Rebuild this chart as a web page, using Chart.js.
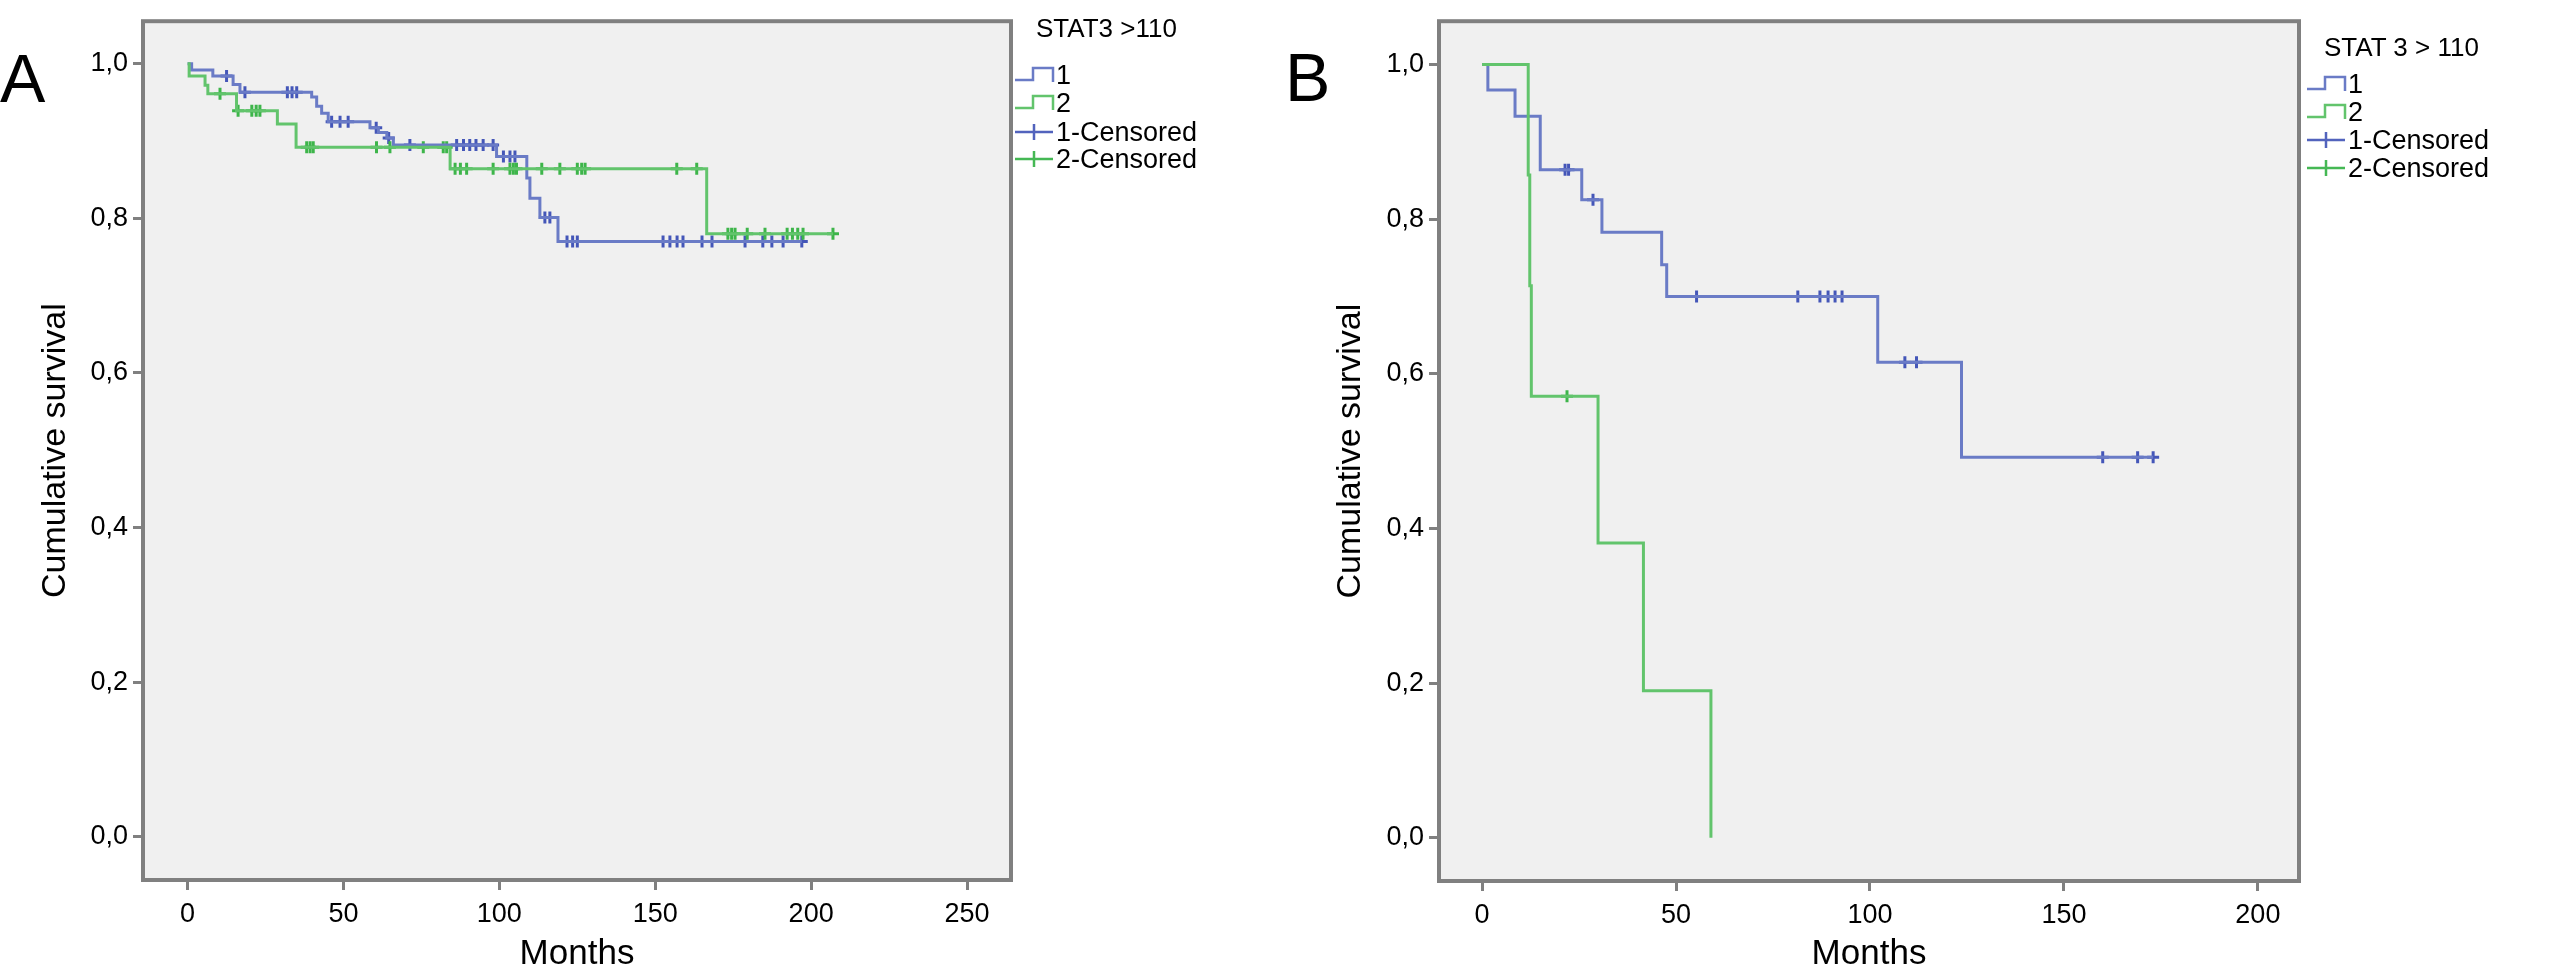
<!DOCTYPE html>
<html>
<head>
<meta charset="utf-8">
<title>Cumulative survival by STAT3</title>
<script src="https://cdn.jsdelivr.net/npm/chart.js@4.4.1/dist/chart.umd.min.js"></script>
<style>
  body { margin: 0; background: #fff; }
  #page { position: relative; width: 2574px; height: 974px; overflow: hidden;
          font-family: 'Liberation Sans', Arial, sans-serif; color: #000; }
  .panel { position: absolute; top: 0; width: 1287px; height: 974px; }
  .letter { position: absolute; font-size: 68px; line-height: 1; }
  .legend { position: absolute; top: 0; width: 260px; height: 200px; }
  .legend div { position: absolute; font-size: 27px; line-height: 1; white-space: nowrap; }
  .legend .ltitle { font-size: 26px; }
  .legend svg { position: absolute; left: 0; }
</style>
</head>
<body>
<div id="page">
  <div class="panel" style="left:0"><canvas id="chartA"></canvas></div>
  <div class="panel" style="left:1287px"><canvas id="chartB"></canvas></div>

  <div class="letter" style="left:0; top:44px">A</div>
  <div class="letter" style="left:1285px; top:43px">B</div>

  <div class="legend" style="left:1015px">
    <div class="ltitle" style="left:21px; top:15px">STAT3 &gt;110</div>
    <svg style="top:65px" width="42" height="20"><path d="M0 15 H18 V3 H38 V17" fill="none" stroke="#6a7bc6" stroke-width="2.5"/></svg>
    <div style="left:41px; top:62px">1</div>
    <svg style="top:93px" width="42" height="20"><path d="M0 15 H18 V3 H38 V17" fill="none" stroke="#62c46c" stroke-width="2.5"/></svg>
    <div style="left:41px; top:90px">2</div>
    <svg style="top:122px" width="42" height="20"><path d="M0 10 H38 M19 2 V18" fill="none" stroke="#5263bd" stroke-width="2.5"/></svg>
    <div style="left:41px; top:119px">1-Censored</div>
    <svg style="top:149px" width="42" height="20"><path d="M0 10 H38 M19 2 V18" fill="none" stroke="#45b854" stroke-width="2.5"/></svg>
    <div style="left:41px; top:146px">2-Censored</div>
  </div>

  <div class="legend" style="left:2307px">
    <div class="ltitle" style="left:17px; top:34px">STAT 3 &gt; 110</div>
    <svg style="top:74px" width="42" height="20"><path d="M0 15 H18 V3 H38 V17" fill="none" stroke="#6a7bc6" stroke-width="2.5"/></svg>
    <div style="left:41px; top:71px">1</div>
    <svg style="top:102px" width="42" height="20"><path d="M0 15 H18 V3 H38 V17" fill="none" stroke="#62c46c" stroke-width="2.5"/></svg>
    <div style="left:41px; top:99px">2</div>
    <svg style="top:130px" width="42" height="20"><path d="M0 10 H38 M19 2 V18" fill="none" stroke="#5263bd" stroke-width="2.5"/></svg>
    <div style="left:41px; top:127px">1-Censored</div>
    <svg style="top:158px" width="42" height="20"><path d="M0 10 H38 M19 2 V18" fill="none" stroke="#45b854" stroke-width="2.5"/></svg>
    <div style="left:41px; top:155px">2-Censored</div>
  </div>
</div>

<script>
// Axis ticks
const yTicks = [0, 0.2, 0.4, 0.6, 0.8, 1.0];
const xTicksA = [0, 50, 100, 150, 200, 250];
const xTicksB = [0, 50, 100, 150, 200];

// Panel A, group 1: event times (months) and survival after each event
const timesA1 = [0, 1.3, 8.1, 14.6, 16.8, 39.8, 41.4, 43, 45.1, 58.5, 61.2, 63.9, 66, 99.1, 108.8, 109.8, 113, 118.8];
const survA1 = [1, 0.992, 0.984, 0.973, 0.963, 0.957, 0.945, 0.936, 0.925, 0.917, 0.911, 0.904, 0.895, 0.880, 0.852, 0.826, 0.801, 0.770];
const censA1 = [12.5, 18.4, 32, 33.5, 35, 46.2, 48.9, 51.5, 60.5, 64.5, 71.3, 86.3, 88.5, 90.5, 92.5, 94.8, 98,
                101.3, 103.4, 105, 114.6, 116.2, 121.7, 123.5, 125, 152.5, 154.7, 157, 158.9, 165, 168.2,
                178.8, 184.5, 187.4, 191, 197];
const endA1 = 197;

// Panel A, group 2
const timesA2 = [0, 0.5, 5.6, 6.5, 15.7, 28.8, 34.8, 84.2, 166.5];
const survA2 = [1, 0.984, 0.972, 0.961, 0.939, 0.922, 0.892, 0.864, 0.780];
const censA2 = [10.4, 16.2, 20.6, 22, 23.2, 38.2, 39.3, 40.3, 60.6, 64.9, 75.6, 82, 83.1, 85.8, 87.5, 89.5, 98,
                103.4, 104.5, 105.5, 113.6, 119.4, 125, 126.4, 127.5, 156.9, 163.3, 173.3, 174.5, 175.6,
                179.5, 185.2, 192.3, 194, 195.7, 197.4, 207];
const endA2 = 207;

// Panel B, group 1
const timesB1 = [0, 1.5, 8.5, 15, 25.7, 30.9, 46.3, 47.6, 102, 123.6];
const survB1 = [1, 0.967, 0.933, 0.864, 0.825, 0.783, 0.741, 0.700, 0.615, 0.492];
const censB1 = [21.4, 22.3, 28.6, 55.3, 81.4, 87.1, 89.2, 91, 92.8, 109, 112, 160, 169, 173];
const endB1 = 173;

// Panel B, group 2
const timesB2 = [0, 11.9, 12.3, 12.7, 29.9, 41.6, 59];
const survB2 = [1, 0.857, 0.714, 0.571, 0.381, 0.190, 0];
const censB2 = [21.9];
const endB2 = 59;

const blueLine = '#6a7bc6';
const blueMark = '#4456b8';
const greenLine = '#62c46c';
const greenMark = '#3db54a';

Chart.defaults.font.family = "'Liberation Sans', Arial, sans-serif";
Chart.defaults.color = '#000';

// step curve points from the event table
function kmPoints(times, surv, end) {
    const pts = times.map((t, i) => ({ x: t, y: surv[i] }));
    if (end > times[times.length - 1]) pts.push({ x: end, y: surv[surv.length - 1] });
    return pts;
}

// survival level at a censoring time
function censPoints(times, surv, cens) {
    return cens.map(t => {
        let s = surv[0];
        for (let i = 0; i < times.length; i++) if (times[i] <= t) s = surv[i];
        return { x: t, y: s };
    });
}

const framePlugin = {
    id: 'frame',
    beforeDraw(chart) {
        const { ctx, chartArea: a } = chart;
        ctx.save();
        ctx.fillStyle = '#f0f0f0';
        ctx.fillRect(a.left, a.top, a.right - a.left, a.bottom - a.top);
        ctx.restore();
    },
    afterDraw(chart) {
        const { ctx, chartArea: a } = chart;
        ctx.save();
        ctx.strokeStyle = '#808080';
        ctx.lineWidth = 4;
        ctx.strokeRect(a.left, a.top, a.right - a.left, a.bottom - a.top);
        ctx.restore();
    }
};

function lineSet(data, color) {
    return { data, showLine: true, stepped: true, borderColor: color, borderWidth: 3,
             pointRadius: 0, fill: false };
}

function markSet(data, color) {
    return { data, showLine: false, pointStyle: 'cross', pointRadius: 6,
             pointBorderWidth: 3, borderColor: color, backgroundColor: color };
}

function makeChart(id, o) {
    const ctx = document.getElementById(id).getContext('2d');
    return new Chart(ctx, {
        type: 'scatter',
        data: {
            datasets: [
                lineSet(kmPoints(o.t2, o.s2, o.e2), greenLine),
                lineSet(kmPoints(o.t1, o.s1, o.e1), blueLine),
                markSet(censPoints(o.t2, o.s2, o.c2), greenMark),
                markSet(censPoints(o.t1, o.s1, o.c1), blueMark)
            ]
        },
        options: {
            responsive: true,
            maintainAspectRatio: false,
            animation: false,
            devicePixelRatio: 1,
            layout: { padding: { left: 0, top: o.padTop, right: o.padRight, bottom: 0 } },
            plugins: { legend: { display: false }, tooltip: { enabled: false } },
            scales: {
                x: {
                    type: 'linear',
                    min: o.xMin,
                    max: o.xMax,
                    afterBuildTicks: s => { s.ticks = o.xTicks.map(v => ({ value: v })); },
                    afterFit: s => { s.height = o.xHeight; },
                    grid: { drawOnChartArea: false, drawTicks: true, tickLength: 10,
                            tickColor: '#808080', tickWidth: 3 },
                    border: { display: false },
                    ticks: { font: { size: 27 }, padding: 8, maxRotation: 0, color: '#000' },
                    title: { display: true, text: 'Months', font: { size: 35, lineHeight: 1 },
                             padding: { top: 0, bottom: 2 }, color: '#000' }
                },
                y: {
                    type: 'linear',
                    min: o.yMin,
                    max: o.yMax,
                    afterBuildTicks: s => { s.ticks = yTicks.map(v => ({ value: v })); },
                    afterFit: s => { s.width = o.yWidth; },
                    grid: { drawOnChartArea: false, drawTicks: true, tickLength: 10,
                            tickColor: '#808080', tickWidth: 3 },
                    border: { display: false },
                    ticks: { font: { size: 27 }, padding: 5, color: '#000',
                             callback: v => v.toFixed(1).replace('.', ',') },
                    title: { display: true, text: 'Cumulative survival', font: { size: 34, lineHeight: 1 },
                             padding: { top: o.yTitlePad, bottom: 0 }, color: '#000' }
                }
            }
        },
        plugins: [framePlugin]
    });
}

makeChart('chartA', {
    t1: timesA1, s1: survA1, c1: censA1, e1: endA1,
    t2: timesA2, s2: survA2, c2: censA2, e2: endA2,
    xTicks: xTicksA, xMin: -14.3, xMax: 264.1, yMin: -0.056, yMax: 1.055,
    padTop: 5, padRight: 276, xHeight: 94, yWidth: 143, yTitlePad: 39
});

makeChart('chartB', {
    t1: timesB1, s1: survB1, c1: censB1, e1: endB1,
    t2: timesB2, s2: survB2, c2: censB2, e2: endB2,
    xTicks: xTicksB, xMin: -11.1, xMax: 210.6, yMin: -0.056, yMax: 1.056,
    padTop: 17, padRight: 275, xHeight: 93, yWidth: 152, yTitlePad: 47
});
</script>
</body>
</html>
